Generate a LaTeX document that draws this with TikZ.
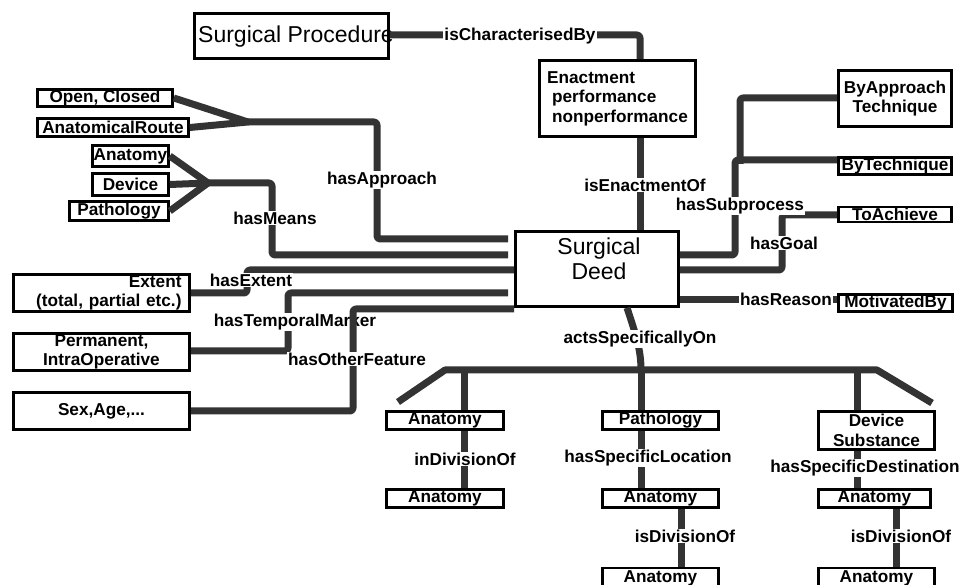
\documentclass[tikz,border=0pt]{standalone}
\usepackage{fontspec}
\setmainfont{Liberation Sans}
\definecolor{connc}{HTML}{333333}
\begin{document}
\begin{tikzpicture}[x=1pt,y=-1pt,
  box/.style={draw=black, line width=2.6pt, fill=white, inner sep=0pt, align=center,
    font=\bfseries\fontsize{17.2}{19.5}\selectfont},
  bigtext/.style={inner sep=0pt, align=center, font=\fontsize{23}{25}\selectfont},
  conn/.style={draw=connc, line width=7pt, rounded corners=3pt, line join=round},
  lbl/.style={fill=white, inner sep=1pt, font=\bfseries\fontsize{17.2}{19.5}\selectfont},
]
\useasboundingbox (0,0) rectangle (962,585);

% ---- boxes ----
\node[box, minimum width=194pt, minimum height=45pt] (sp) at (291.5,36) {};
\node[bigtext] (sptext) at (296,37) {Surgical Procedure};
\node[box, minimum width=156pt, minimum height=76pt, align=left] (en) at (617.5,98.5)
  {Enactment\\\hspace*{5pt}performance\\\hspace*{5pt}nonperformance};
\node[box, minimum width=163pt, minimum height=75pt] (sd) at (597,269) {};
\node[bigtext] (sdtext) at (599,259) {Surgical\\Deed};

\node[box, minimum width=113pt, minimum height=56pt] (bat) at (895,98.5) {ByApproach\\Technique};
\node[box, minimum width=113pt, minimum height=17pt] (bt) at (895,166) {ByTechnique};
\node[box, minimum width=113pt, minimum height=15pt] (ta) at (895,214.5) {ToAchieve};
\node[box, minimum width=114pt, minimum height=17pt] (mb) at (895.5,303) {MotivatedBy};

\node[box, minimum width=135pt, minimum height=17pt] (oc) at (105,98) {Open, Closed};
\node[box, minimum width=151pt, minimum height=18pt] (ar) at (113,127.5) {AnatomicalRoute};
\node[box, minimum width=76pt, minimum height=21pt] (an) at (130.5,156) {Anatomy};
\node[box, minimum width=76pt, minimum height=22pt] (dvm) at (130.5,184.5) {Device};
\node[box, minimum width=99pt, minimum height=19pt] (pam) at (119,211) {Pathology};

\node[box, minimum width=176pt, minimum height=37pt, text width=160pt, align=right] (ext) at (101.5,293)
  {Extent\hspace*{12pt}\\(total, partial etc.)};
\node[box, minimum width=176pt, minimum height=37pt] (perm) at (101.5,352) {Permanent,\\IntraOperative};
\node[box, minimum width=176pt, minimum height=37pt] (sex) at (101.5,411) {Sex,Age,...};

\node[box, minimum width=117pt, minimum height=18pt] (a1) at (445,420.5) {Anatomy};
\node[box, minimum width=116pt, minimum height=18pt] (pa) at (660.5,420.5) {Pathology};
\node[box, minimum width=116pt, minimum height=38pt] (dv) at (876.5,430.5) {Device\\Substance};
\node[box, minimum width=117pt, minimum height=18pt] (a2) at (445,498.5) {Anatomy};
\node[box, minimum width=116pt, minimum height=18pt] (a3) at (660.5,498.5) {Anatomy};
\node[box, minimum width=112pt, minimum height=18pt] (a4) at (874.5,498.5) {Anatomy};
\node[box, minimum width=116pt, minimum height=20pt] (a5) at (660.5,578) {Anatomy};
\node[box, minimum width=116pt, minimum height=20pt] (a6) at (876.5,578) {Anatomy};

% ---- bend / fork coordinates ----
\coordinate (fa) at (248,122);
\coordinate (fm) at (208,183);
\coordinate (bl) at (398,402);
\coordinate (b1) at (445,370);
\coordinate (bj) at (641,370);
\coordinate (b2) at (877,370);
\coordinate (br) at (932,403);

% ---- connectors ----
\draw[conn] (sp.east |- 0,35) -- (640,35) -- (640,0 |- en.north);
\draw[conn] (640,0 |- en.south) -- (640,0 |- sd.north);

\draw[conn] (sd.east |- 0,255) -- (735,255) -- (735,160) -- (bt.west |- 0,160);
\draw[conn] (740,164) -- (740,98) -- (bat.west |- 0,98);
\draw[conn] (sd.east |- 0,270) -- (782,270) -- (782,215) -- (ta.west |- 0,215);
\draw[conn] (sd.east |- 0,300) -- (mb.west |- 0,300);

\draw[conn] ([xshift=-6pt]sd.west |- 0,239) -- (377,239) -- (377,122) -- (fa);
\draw[conn, rounded corners=0pt] (oc.east) -- (fa) -- (ar.east);
\draw[conn] ([xshift=-6pt]sd.west |- 0,255) -- (272,255) -- (272,183) -- (fm);
\draw[conn, rounded corners=0pt] (an.east) -- (fm) -- (pam.east);
\draw[conn] (dvm.east) -- (fm);

\draw[conn] (sd.west |- 0,270) -- (247,270) -- (247,293) -- (ext.east |- 0,293);
\draw[conn] ([xshift=-6pt]sd.west |- 0,293) -- (288,293) -- (288,351) -- (perm.east |- 0,351);
\node[lbl] (ltm) at (295,322) {hasTemporalMarker};
\draw[conn] (sd.west |- 0,309) -- (353,309) -- (353,411) -- (sex.east |- 0,411);

\draw[conn] (627,0 |- sd.south) .. controls (636,335) and (641,350) .. (bj);
\draw[conn, rounded corners=0pt] (bl) -- (b1) -- (b2) -- (br);
\draw[conn] (464,370) -- (464,0 |- a1.north);
\draw[conn] (bj) -- (641,0 |- pa.north);
\draw[conn] (857,370) -- (857,0 |- dv.north);
\draw[conn] (464,0 |- a1.south) -- (464,0 |- a2.north);
\draw[conn] (641,0 |- pa.south) -- (641,0 |- a3.north);
\draw[conn] (857,0 |- dv.south) -- (857,0 |- a4.north);
\draw[conn] (681,0 |- a3.south) -- (681,0 |- a5.north);
\draw[conn] (896,0 |- a4.south) -- (896,0 |- a6.north);

% ---- labels ----
\node[lbl] (lcb) at (520,36) {isCharacterisedBy};
\node[lbl] (lea) at (645,185) {isEnactmentOf};
\node[lbl] (lsp) at (740,206) {hasSubprocess};
\node[lbl] (lgo) at (784,243) {hasGoal};
\node[lbl] (lre) at (786,299) {hasReason};
\node[lbl] (lap) at (382,180) {hasApproach};
\node[lbl] (lme) at (275,218) {hasMeans};
\node[lbl] (lex) at (251,280) {hasExtent};
\node[lbl] (lof) at (357,359) {hasOtherFeature};
\node[lbl] (lac) at (640,339) {actsSpecificallyOn};
\node[lbl] (lid) at (465,459) {inDivisionOf};
\node[lbl] (lsl) at (648,458) {hasSpecificLocation};
\node[lbl] (lsd) at (865,468) {hasSpecificDestination};
\node[lbl] (ld1) at (685,536) {isDivisionOf};
\node[lbl] (ld2) at (901,536) {isDivisionOf};
\end{tikzpicture}
\end{document}
